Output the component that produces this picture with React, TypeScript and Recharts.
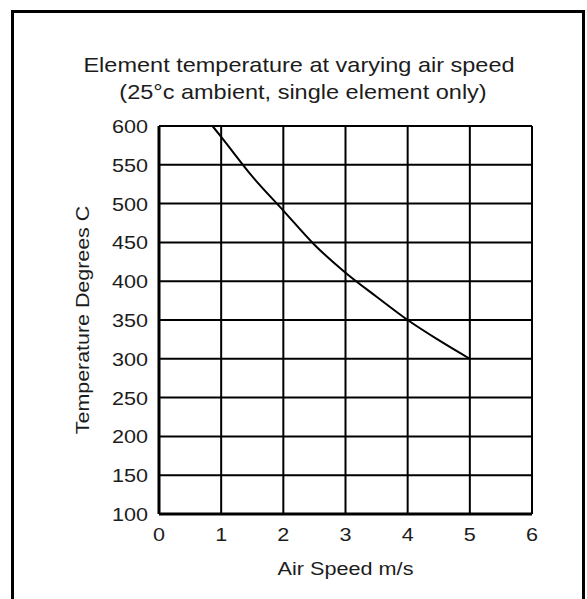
import React from "react";
import { CartesianGrid, Label, Line, LineChart, XAxis, YAxis } from "recharts";

const airSpeed = [0.86, 1, 1.5, 2, 2.5, 3, 3.5, 4, 4.5, 5];
const temperature = [600, 586, 535, 491, 447, 411, 380, 350, 324, 300];
const xTicks = [0, 1, 2, 3, 4, 5, 6];
const yTicks = [100, 150, 200, 250, 300, 350, 400, 450, 500, 550, 600];

const data = airSpeed.map((speed, i) => ({ speed, temp: temperature[i] }));

const font = "'Liberation Sans', Arial, sans-serif";
const ink = "#1c1c1c";

// the scanned original has wide lettering, so text is stretched along its baseline
function WideText({ x, y, size, stretch, anchor = "middle", rotate = 0, children }: any) {
  return (
    <g transform={`translate(${x},${y}) rotate(${rotate}) scale(${stretch},1)`}>
      <text x={0} y={0} textAnchor={anchor} fill={ink} fontSize={size} fontFamily={font}>
        {children}
      </text>
    </g>
  );
}

function YTick({ x, y, payload }: any) {
  return (
    <WideText x={x} y={y + 7} size={18} stretch={1.2} anchor="end">
      {payload.value}
    </WideText>
  );
}

function XTick({ x, y, payload }: any) {
  return (
    <WideText x={x} y={y + 13} size={18} stretch={1.2}>
      {payload.value}
    </WideText>
  );
}

export default function App() {
  return (
    <div
      style={{
        position: "absolute",
        left: 0,
        top: 0,
        width: 587,
        height: 599,
        background: "#fff",
        overflow: "hidden",
      }}
    >
      <div
        style={{
          position: "absolute",
          left: 11,
          top: 10,
          width: 574,
          height: 620,
          border: "3px solid #000",
          boxSizing: "border-box",
        }}
      />
      <svg width={587} height={110} style={{ position: "absolute", left: 0, top: 0 }}>
        <WideText x={299} y={72} size={21} stretch={1.12}>
          Element temperature at varying air speed
        </WideText>
        <WideText x={303} y={99} size={21} stretch={1.12}>
          (25°c ambient, single element only)
        </WideText>
      </svg>
      <div style={{ position: "absolute", left: 0, top: 0 }}>
        <LineChart
          width={587}
          height={599}
          data={data}
          margin={{ top: 126, right: 55, left: 99, bottom: 35 }}
        >
          <CartesianGrid stroke="#000" strokeWidth={2} />
          <XAxis
            dataKey="speed"
            type="number"
            domain={[0, 6]}
            ticks={xTicks}
            height={50}
            tickLine={false}
            tickSize={6}
            tickMargin={8}
            axisLine={{ stroke: "#000", strokeWidth: 3 }}
            tick={<XTick />}
            interval={0}
          >
            <Label
              content={() => (
                <WideText x={345.5} y={575} size={18.5} stretch={1.17}>
                  Air Speed m/s
                </WideText>
              )}
            />
          </XAxis>
          <YAxis
            type="number"
            domain={[100, 600]}
            ticks={yTicks}
            width={60}
            tickLine={false}
            tickSize={6}
            tickMargin={5}
            axisLine={{ stroke: "#000", strokeWidth: 3 }}
            tick={<YTick />}
            interval={0}
          >
            <Label
              content={() => (
                <WideText x={89} y={320} size={18} stretch={1.19} rotate={-90}>
                  Temperature Degrees C
                </WideText>
              )}
            />
          </YAxis>
          <Line
            type="monotone"
            dataKey="temp"
            stroke="#000"
            strokeWidth={2}
            dot={false}
            isAnimationActive={false}
          />
        </LineChart>
      </div>
    </div>
  );
}
